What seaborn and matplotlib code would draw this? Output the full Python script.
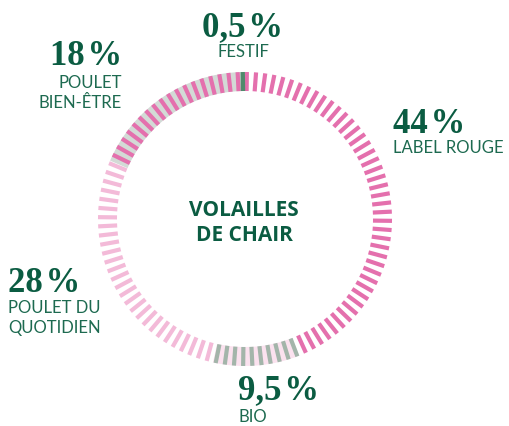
import matplotlib
matplotlib.use("Agg")
import matplotlib.pyplot as plt
import numpy as np
import pandas as pd
import seaborn as sns

# shares of the "volailles de chair" ring, clockwise from the top
segments = ["LABEL ROUGE", "BIO", "POULET DU QUOTIDIEN", "POULET BIEN-ÊTRE", "FESTIF"]
shares = [44, 9.5, 28, 18, 0.5]
pct_labels = ["44\u200a%", "9,5\u200a%", "28\u200a%", "18\u200a%", "0,5\u200a%"]

tick_colors = ["#e470ad", "#a3b5aa", "#f3bad8", "#e470ad", "#4f8a6c"]
band_colors = [None, "#fbe2ef", None, "#d3dad6", "#d3dad6"]

sns.set_theme(style="white")
dark_green = "#0b5c42"

# one dash per percent around the ring
ticks = pd.DataFrame({"pos": np.arange(100) + 0.2})
bounds = np.cumsum([0] + shares)
ticks["seg"] = pd.cut(ticks["pos"], bins=bounds, labels=segments, right=False)

fig = plt.figure(figsize=(5.09, 4.26), dpi=100)
W, H = 509, 426
cx, cy, R = 245, 219, 150
ax = fig.add_axes([(cx - R) / W, (H - cy - R) / H, 2 * R / W, 2 * R / H], projection="polar")
ax.set_theta_zero_location("N")
ax.set_theta_direction(-1)
ax.set_ylim(0, 150)
ax.set_axis_off()

r_in, r_out = 128, 147
to_rad = lambda p: np.asarray(p) / 100 * 2 * np.pi

# background bands
for i, seg in enumerate(segments):
    if band_colors[i] and seg != "FESTIF":
        start, stop = bounds[i], bounds[i + 1]
        ax.bar(to_rad((start + stop) / 2), r_out - r_in, width=to_rad(stop - start),
               bottom=r_in, color=band_colors[i], linewidth=0, zorder=1)

# dashes
for i, seg in enumerate(segments):
    sub = ticks[ticks["seg"] == seg]
    if len(sub):
        ax.vlines(to_rad(sub["pos"]), r_in, r_out, colors=tick_colors[i], lw=3.0, zorder=2)

# festif mark
ax.vlines(to_rad(bounds[4] + shares[4] / 2), r_in, r_out, colors=tick_colors[4], lw=3.2, zorder=3)

num_font = dict(family=["Liberation Serif", "DejaVu Serif"], weight="bold", size=25, color=dark_green)
lab_font = dict(family="Lato", weight="normal", size=12, color="#1d6a50")

def px(x, y):
    return x / W, 1 - y / H

# label positions (pixels): x, anchor, baseline of percent, baselines of text lines
layout = {
    "LABEL ROUGE": (393, "left", 133, [("LABEL ROUGE", 153)]),
    "BIO": (238, "left", 399, [("BIO", 422)]),
    "POULET DU QUOTIDIEN": (8, "left", 292, [("POULET DU", 313), ("QUOTIDIEN", 333)]),
    "POULET BIEN-ÊTRE": (122, "right", 65, [("POULET", 88), ("BIEN-ÊTRE", 108)]),
    "FESTIF": (243, "center", 36, [("FESTIF", 57)]),
}
for seg, pl in zip(segments, pct_labels):
    x, ha, yb, lines = layout[seg]
    fig.text(*px(x, yb), pl, ha=ha, va="baseline", **num_font)
    for txt, y in lines:
        fig.text(*px(x, y), txt, ha=ha, va="baseline", **lab_font)

center_font = dict(family="Open Sans", weight="bold", size=15, color=dark_green)
fig.text(*px(244, 216), "VOLAILLES", ha="center", va="baseline", **center_font)
fig.text(*px(244, 241), "DE CHAIR", ha="center", va="baseline", **center_font)

fig.savefig("out.png", dpi=100)
